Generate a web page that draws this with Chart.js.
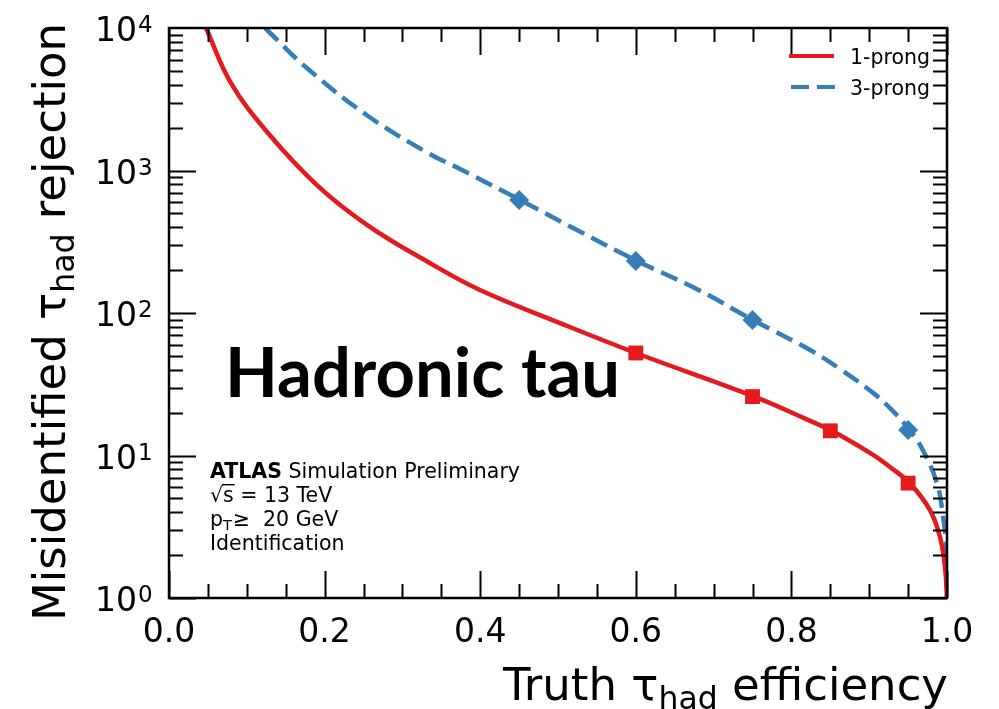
<!DOCTYPE html>
<html>
<head>
<meta charset="utf-8">
<script src="https://cdn.jsdelivr.net/npm/chart.js@4.4.1/dist/chart.umd.min.js"></script>
<style>
  html, body { margin: 0; padding: 0; background: #fff; }
  #c { display: block; }
</style>
</head>
<body>
<canvas id="c" width="999" height="709"></canvas>
<script>
// 1-prong curve (truth efficiency vs rejection)
const prong1X = [0.0476, 0.0797, 0.1272, 0.1915, 0.2558, 0.3329, 0.3997, 0.5026, 0.6, 0.7532, 0.8239, 0.852, 0.905, 0.9267, 0.952, 0.978, 0.991, 0.9974, 1.0];
const prong1Y = [10000, 4110, 1833, 778, 411, 228, 145, 85, 52.4, 25.8, 17.5, 14.9, 10.1, 8.3, 6.4, 4.15, 2.68, 1.65, 1.0];
// 3-prong curve
const prong3X = [0.1234, 0.1787, 0.2558, 0.3329, 0.374, 0.4512, 0.5244, 0.6015, 0.6787, 0.7506, 0.824, 0.8625, 0.905, 0.9267, 0.952, 0.969, 0.987, 0.995, 0.9993, 1.0];
const prong3Y = [10000, 5155, 2412, 1327, 1025, 621, 382, 232, 147, 89.3, 55, 40.5, 27.5, 21.5, 15.1, 10.9, 6.41, 3.7, 2.17, 1.0];
// working points (markers)
const mark1X = [0.6, 0.75, 0.85, 0.95];
const mark1Y = [52.4, 25.9, 14.9, 6.4];
const mark3X = [0.45, 0.6, 0.75, 0.95];
const mark3Y = [621, 232, 89.3, 15.1];

const xTicks = [0.0, 0.2, 0.4, 0.6, 0.8, 1.0];
const xTickLabels = ['0.0', '0.2', '0.4', '0.6', '0.8', '1.0'];
const yDecades = [0, 1, 2, 3, 4];

const RED = '#e41a1c';
const BLUE = '#377eb8';
const DASH = [18, 8];

function pts(xs, ys) {
    return xs.map(function (x, i) { return { x: x, y: ys[i] }; });
}

// draws "main" + subscript + "rest" starting at (x, y) in current transform
function subText(ctx, x, y, main, sub, rest, size) {
    const subSize = size * 0.7;
    ctx.font = size + 'px "DejaVu Sans"';
    const wa = ctx.measureText(main).width;
    ctx.fillText(main, x, y);
    ctx.font = subSize.toFixed(1) + 'px "DejaVu Sans"';
    const wb = ctx.measureText(sub).width;
    ctx.fillText(sub, x + wa, y + size * 0.2);
    ctx.font = size + 'px "DejaVu Sans"';
    ctx.fillText(rest, x + wa + wb, y);
    return wa + wb + ctx.measureText(rest).width;
}

function subWidth(ctx, main, sub, rest, size) {
    ctx.font = size + 'px "DejaVu Sans"';
    let w = ctx.measureText(main).width + ctx.measureText(rest).width;
    ctx.font = (size * 0.7).toFixed(1) + 'px "DejaVu Sans"';
    return w + ctx.measureText(sub).width;
}

const axesPlugin = {
    id: 'atlasAxes',
    afterDraw: function (chart) {
        const ctx = chart.ctx;
        const a = chart.chartArea;
        const sx = chart.scales.x;
        const sy = chart.scales.y;
        ctx.save();
        ctx.strokeStyle = '#000';
        ctx.fillStyle = '#000';

        // ticks, inward on all sides
        const majL = 27, minL = 14;
        ctx.lineWidth = 2;
        ctx.beginPath();
        for (let i = 0; i <= 20; i++) {
            const v = i * 0.05;
            const px = Math.round(sx.getPixelForValue(v)) + 0.5;
            const L = (i % 4 === 0) ? majL : minL;
            ctx.moveTo(px, a.bottom); ctx.lineTo(px, a.bottom - L);
            ctx.moveTo(px, a.top); ctx.lineTo(px, a.top + L);
        }
        for (let d = 0; d < 4; d++) {
            for (let m = 1; m <= 9; m++) {
                const py = Math.round(sy.getPixelForValue(m * Math.pow(10, d))) + 0.5;
                const L = m === 1 ? majL : minL;
                ctx.moveTo(a.left, py); ctx.lineTo(a.left + L, py);
                ctx.moveTo(a.right, py); ctx.lineTo(a.right - L, py);
            }
        }
        ctx.stroke();

        // frame
        ctx.lineWidth = 2.5;
        ctx.strokeRect(a.left, a.top, a.right - a.left, a.bottom - a.top);

        // x tick labels
        ctx.font = '33px "DejaVu Sans"';
        ctx.textAlign = 'center';
        ctx.textBaseline = 'alphabetic';
        xTicks.forEach(function (v, i) {
            ctx.fillText(xTickLabels[i], sx.getPixelForValue(v), a.bottom + 44);
        });

        // y tick labels 10^k
        yDecades.forEach(function (k) {
            const py = sy.getPixelForValue(Math.pow(10, k));
            ctx.font = '33px "DejaVu Sans"';
            ctx.textAlign = 'right';
            ctx.fillText('10', 137, py + 13);
            ctx.font = '23px "DejaVu Sans"';
            ctx.textAlign = 'left';
            ctx.fillText(String(k), 138, py + 4);
        });

        // axis titles
        ctx.textAlign = 'left';
        const TS = 45;
        const xw = subWidth(ctx, 'Truth \u03c4', 'had', ' efficiency', TS);
        subText(ctx, a.right + 1 - xw, 700, 'Truth \u03c4', 'had', ' efficiency', TS);

        ctx.save();
        ctx.translate(65, 621);
        ctx.rotate(-Math.PI / 2);
        subText(ctx, 0, 0, 'Misidentified \u03c4', 'had', ' rejection', TS);
        ctx.restore();

        // big label
        ctx.font = 'bold 66px Lato';
        const hw = ctx.measureText('Hadronic tau').width;
        const hs = 66 * 395 / hw;
        ctx.font = 'bold ' + hs.toFixed(1) + 'px Lato';
        ctx.fillText('Hadronic tau', 225, 397);

        // ATLAS block
        const tx = 210;
        const FS = '20.5px "DejaVu Sans"';
        ctx.font = 'bold ' + FS;
        ctx.fillText('ATLAS', tx, 478);
        const aw = ctx.measureText('ATLAS').width;
        ctx.font = FS;
        ctx.fillText(' Simulation Preliminary', tx + aw, 478);

        ctx.fillText('\u221a', tx, 502);
        const rw = ctx.measureText('\u221a').width;
        ctx.fillText('s', tx + rw, 502);
        const sw = ctx.measureText('s').width;
        ctx.fillRect(tx + rw - 1, 502 - 18, sw + 2, 1.4);
        ctx.fillText(' = 13 TeV', tx + rw + sw, 502);

        ctx.fillText('p', tx, 526);
        const pw = ctx.measureText('p').width;
        ctx.font = '14.5px "DejaVu Sans"';
        ctx.fillText('T', tx + pw, 530);
        const Tw = ctx.measureText('T').width;
        ctx.font = FS;
        ctx.fillText('\u2265  20 GeV', tx + pw + Tw + 1, 526);

        ctx.fillText('Identification', tx, 550);

        // legend
        ctx.lineWidth = 4;
        ctx.strokeStyle = RED;
        ctx.beginPath(); ctx.moveTo(789, 56); ctx.lineTo(834, 56); ctx.stroke();
        ctx.strokeStyle = BLUE;
        ctx.setLineDash(DASH);
        ctx.beginPath(); ctx.moveTo(791, 87); ctx.lineTo(835, 87); ctx.stroke();
        ctx.setLineDash([]);
        ctx.font = '20.5px "DejaVu Sans"';
        ctx.fillStyle = '#000';
        ctx.fillText('1-prong', 850, 64);
        ctx.fillText('3-prong', 850, 95);

        ctx.restore();
    }
};

new Chart(document.getElementById('c'), {
    type: 'line',
    data: {
        datasets: [
            {
                label: '1-prong',
                data: pts(prong1X, prong1Y),
                borderColor: RED,
                borderWidth: 4.5,
                pointRadius: 0,
                tension: 0.4,
                fill: false
            },
            {
                label: '3-prong',
                data: pts(prong3X, prong3Y),
                borderColor: BLUE,
                borderWidth: 4.5,
                borderDash: DASH,
                pointRadius: 0,
                tension: 0.4,
                fill: false
            },
            {
                label: '1-prong WP',
                data: pts(mark1X, mark1Y),
                showLine: false,
                pointStyle: 'rect',
                pointRadius: 10.5,
                backgroundColor: RED,
                borderColor: RED,
                borderWidth: 0
            },
            {
                label: '3-prong WP',
                data: pts(mark3X, mark3Y),
                showLine: false,
                pointStyle: 'rectRot',
                pointRadius: 10,
                backgroundColor: BLUE,
                borderColor: BLUE,
                borderWidth: 0
            }
        ]
    },
    options: {
        responsive: false,
        animation: false,
        devicePixelRatio: 1,
        layout: { padding: { left: 169, right: 52, top: 28, bottom: 111 } },
        plugins: {
            legend: { display: false },
            tooltip: { enabled: false }
        },
        scales: {
            x: { type: 'linear', min: 0, max: 1, display: false },
            y: { type: 'logarithmic', min: 1, max: 10000, display: false }
        }
    },
    plugins: [axesPlugin]
});
</script>
</body>
</html>
